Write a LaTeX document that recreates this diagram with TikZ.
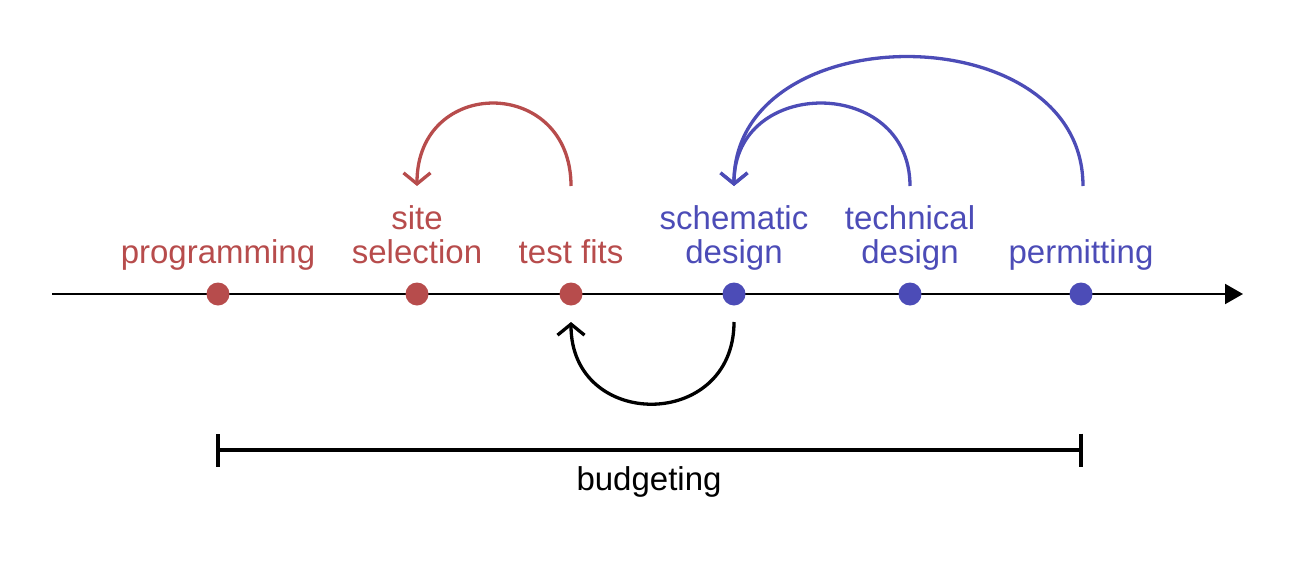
\documentclass[tikz,border=0pt]{standalone}
\usepackage{fontspec}
\setmainfont{Liberation Sans}
\usetikzlibrary{arrows.meta}
\definecolor{phred}{RGB}{183,76,76}
\definecolor{phblue}{RGB}{76,76,183}
\tikzset{
  x=1pt, y=-1pt,
  dot/.style={circle, inner sep=0pt, minimum size=23pt},
  reddot/.style={dot, fill=phred},
  bluedot/.style={dot, fill=phblue},
  lbl/.style={anchor=base, align=center, inner sep=0pt, font=\fontsize{33}{34}\selectfont},
  redlbl/.style={lbl, text=phred},
  bluelbl/.style={lbl, text=phblue},
  axisline/.style={line width=2pt, -{Triangle[length=18pt,width=20pt]}},
  loop/.style={line width=3.3pt, -{Straight Barb[length=11pt,width=27pt]}},
  barline/.style={line width=4pt, {Bar[width=33pt]}-{Bar[width=33pt]}},
}
\begin{document}
\begin{tikzpicture}
\useasboundingbox (0,0) rectangle (1307,565);
% axis
\coordinate (axA) at (52,294);
\coordinate (axB) at (1243,294);
\draw[axisline] (axA) -- (axB);
% dots
\node[reddot] (pg) at (218,294) {};
\node[reddot] (ss) at (417,294) {};
\node[reddot] (tf) at (571,294) {};
\node[bluedot] (sd) at (734,294) {};
\node[bluedot] (td) at (910,294) {};
\node[bluedot] (pm) at (1081,294) {};
% labels
\node[redlbl] (lpg) at (218,263) {programming};
\node[redlbl] (lss) at (417,263) {site\\selection};
\node[redlbl] (ltf) at (571,263) {test fits};
\node[bluelbl] (lsd) at (734,263) {schematic\\design};
\node[bluelbl] (ltd) at (910,263) {technical\\design};
\node[bluelbl] (lpm) at (1081,263) {permitting};
% loop end points
\coordinate (tfU) at (571,186);
\coordinate (ssU) at (417,186);
\coordinate (sdU) at (734,186);
\coordinate (tdU) at (910,186);
\coordinate (pmU) at (1083,186);
\coordinate (sdD) at (734,322);
\coordinate (tfD) at (571,322);
% loops
\draw[loop, phred] (tfU) .. controls +(0,-110) and +(0,-110) .. (ssU);
\draw[loop, phblue] (tdU) .. controls +(0,-110) and +(0,-110) .. (sdU);
\draw[loop, phblue] (pmU) .. controls +(0,-172) and +(0,-172) .. (sdU);
\draw[loop, black] (sdD) .. controls +(0,109) and +(0,109) .. (tfD);
% budgeting
\coordinate (bA) at (216,450);
\coordinate (bB) at (1083,450);
\draw[barline] (bA) -- (bB);
\node[lbl] (lb) at (649,490) {budgeting};
\end{tikzpicture}
\end{document}
